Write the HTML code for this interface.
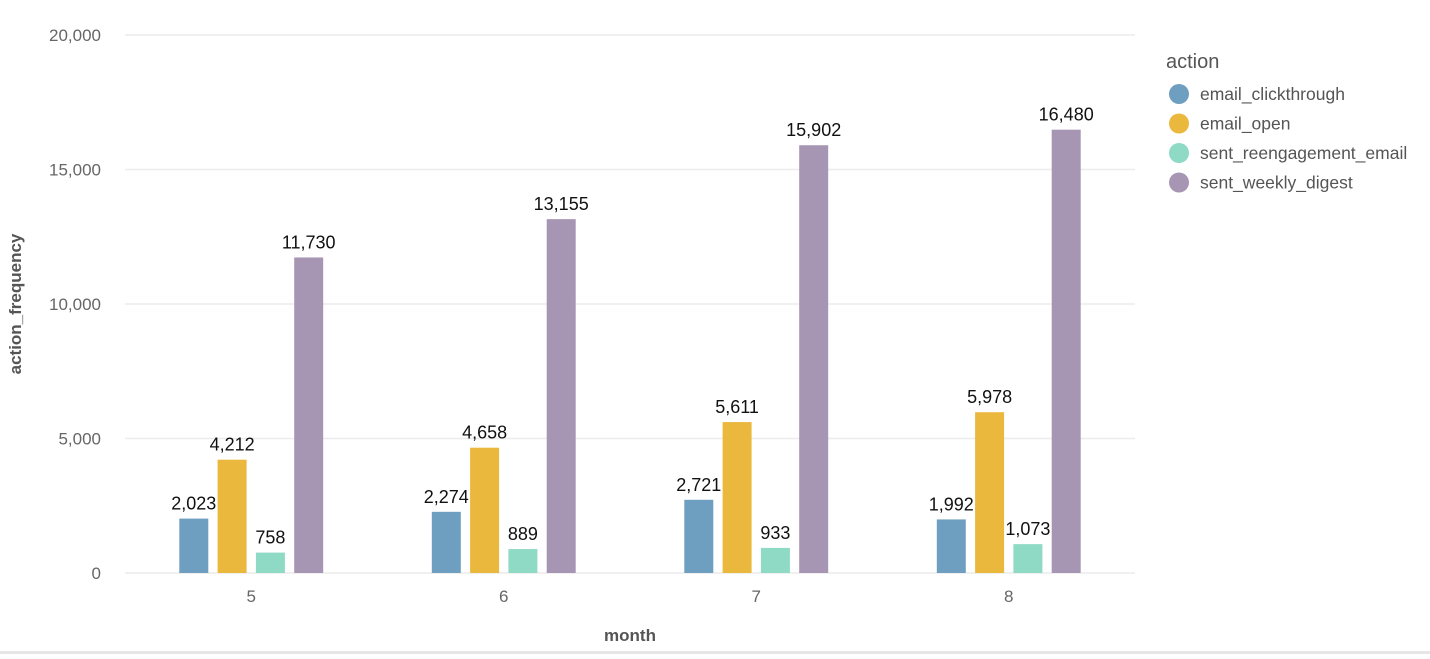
<!DOCTYPE html>
<html><head><meta charset="utf-8"><style>
body{margin:0;background:#fff;width:1430px;height:654px;overflow:hidden;font-family:"Liberation Sans",sans-serif}
</style></head><body>
<svg id="chart" width="1430" height="654" xmlns="http://www.w3.org/2000/svg">
<rect x="0" y="651" width="1430" height="3" fill="#e6e6e6"/>
<g id="grid"></g><g id="bars"></g><g id="labels"></g>
<text x="21" y="304" transform="rotate(-90 21 304)" text-anchor="middle" font-size="17" font-weight="bold" fill="#555">action_frequency</text>
<text x="630" y="641" text-anchor="middle" font-size="17" font-weight="bold" fill="#555">month</text>
<g id="legend">
<text x="1166" y="68" font-size="20" fill="#555">action</text>
</g>
</svg>
<script>
const categories=["5","6","7","8"];
const series=["email_clickthrough","email_open","sent_reengagement_email","sent_weekly_digest"];
const colors=["#6f9fc0","#ebb83e","#8edac4","#a696b3"];
const clickthrough=[2023,2274,2721,1992];
const opens=[4212,4658,5611,5978];
const reengage=[758,889,933,1073];
const digest=[11730,13155,15902,16480];
const yTicks=[0,5000,10000,15000,20000];
const values=[clickthrough,opens,reengage,digest];
const NS="http://www.w3.org/2000/svg";
const x0=125,x1=1135,y0=573,y1=35,yMax=20000;
const y=v=>y0-(v/yMax)*(y0-y1);
const band=(x1-x0)/categories.length;
const xc=i=>x0+band*(i+0.5);
const fmt=v=>v.toLocaleString("en-US");
function mk(t,a,p){const e=document.createElementNS(NS,t);for(const k in a)e.setAttribute(k,a[k]);p.appendChild(e);return e;}
const grid=document.getElementById("grid"),bars=document.getElementById("bars"),labels=document.getElementById("labels"),legend=document.getElementById("legend");
yTicks.forEach(t=>{
 const l=mk("line",{x1:x0,x2:x1,y1:y(t),y2:y(t),stroke:"#ececec","stroke-width":1.5},grid);
 
 
 const tx=mk("text",{x:101,y:y(t)+6,"text-anchor":"end","font-size":17,fill:"#666"},grid);
 tx.textContent=fmt(t);
 
 
});
categories.forEach((c,i)=>{
 const tx=mk("text",{x:xc(i),y:602,"text-anchor":"middle","font-size":17,fill:"#666"},labels);
 tx.textContent=c;
 
 
 series.forEach((s,j)=>{
  const v=values[j][i];
  const bx=xc(i)+(j-1.5)*38.3-14.5;
  const r=mk("rect",{x:bx,y:y(v),width:29,height:y0-y(v),fill:colors[j]},bars);
  
  
  const lt=mk("text",{x:bx+14.5,y:y(v)-9,"text-anchor":"middle","font-size":18,fill:"#111"},labels);
  lt.textContent=fmt(v);
  
  
 });
});
series.forEach((s,j)=>{
 const cy=94+j*29.5;
 const c=mk("circle",{cx:1179,cy:cy,r:10,fill:colors[j]},legend);
 
 
 const t=mk("text",{x:1200,y:cy+6,"font-size":17.5,fill:"#555"},legend);
 t.textContent=s;
 
 
});
</script>
</body></html>
